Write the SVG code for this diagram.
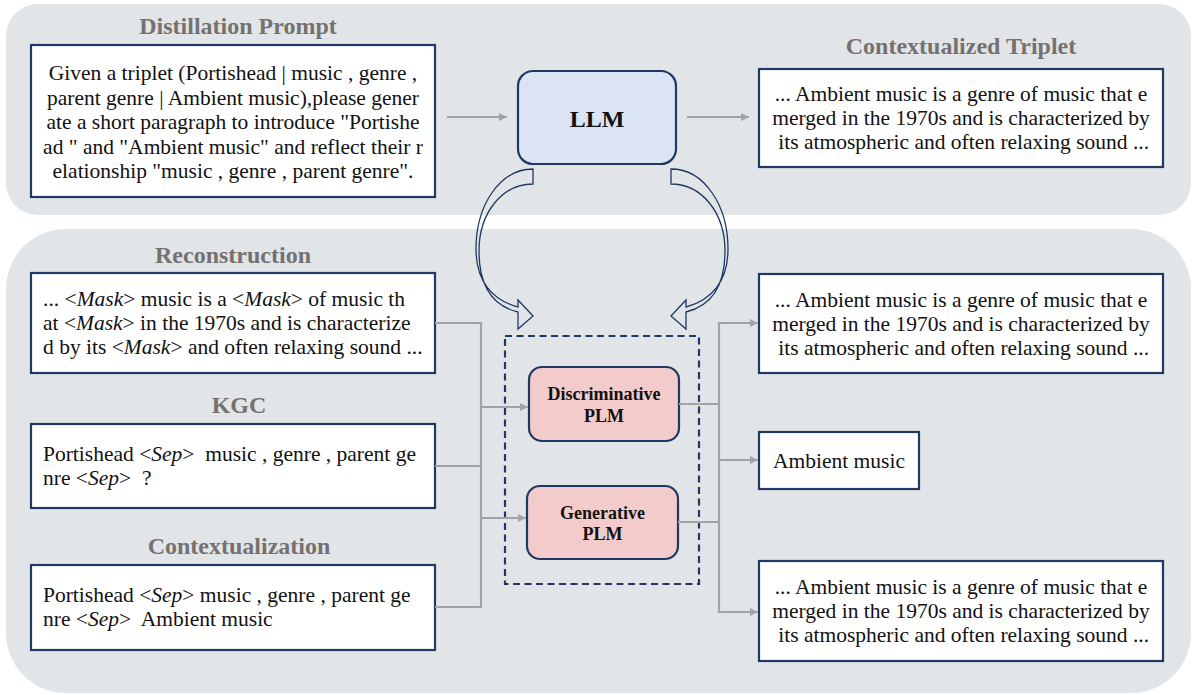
<svg xmlns="http://www.w3.org/2000/svg" width="1196" height="695" viewBox="0 0 1196 695">
<style>
.panel{fill:#e2e5e7;stroke:none}
.box{fill:#ffffff;stroke:#203864;stroke-width:2.2}
.t{font-family:"Liberation Serif","Times New Roman",serif;font-size:21.5px;fill:#111111;white-space:pre}
.c{text-anchor:middle}
.title{font-family:"Liberation Serif","Times New Roman",serif;font-size:24px;font-weight:bold;fill:#767171;text-anchor:middle}
.bold{font-family:"Liberation Serif","Times New Roman",serif;font-weight:bold;fill:#111111;text-anchor:middle}
.conn{fill:none;stroke:#a3a3a3;stroke-width:2.2}
.curve{fill:none;stroke:#203864;stroke-width:1.3;stroke-linejoin:miter}
</style>
<defs>
<marker id="ah" markerUnits="userSpaceOnUse" markerWidth="9" markerHeight="9" refX="8" refY="4.5" orient="auto">
<path d="M0,0.5 L8,4.5 L0,8.5 Z" fill="#a3a3a3"/>
</marker>
</defs>

<rect class="panel" x="6" y="4" width="1185" height="211" rx="32" ry="32"/>
<rect class="panel" x="6" y="229" width="1185" height="464" rx="60" ry="60"/>

<g id="prompt">
<text class="title" x="238" y="34">Distillation Prompt</text>
<rect class="box" x="31" y="45" width="404" height="152"/>
<text class="t c" x="233" y="80">Given a triplet (Portishead | music , genre ,</text>
<text class="t c" x="233" y="104.5">parent genre | Ambient music),please gener</text>
<text class="t c" x="233" y="129">ate a short paragraph to introduce "Portishe</text>
<text class="t c" x="233" y="153.5">ad " and "Ambient music" and reflect their r</text>
<text class="t c" x="233" y="178">elationship "music , genre , parent genre".</text>
</g>

<g id="llm">
<rect x="518" y="71" width="158" height="93" rx="15" ry="15" fill="#dae4f5" stroke="#203864" stroke-width="2.2"/>
<text class="bold" x="597" y="127" font-size="24">LLM</text>
</g>

<g id="ctx-triplet">
<text class="title" x="961" y="54">Contextualized Triplet</text>
<rect class="box" x="759" y="69" width="404" height="98"/>
<text class="t c" x="961" y="101">... Ambient music is a genre of music that e</text>
<text class="t c" x="961" y="125">merged in the 1970s and is characterized by</text>
<text class="t c" x="961" y="149"> its atmospheric and often relaxing sound ...</text>
</g>

<g id="reconstruction">
<text class="title" x="233" y="263">Reconstruction</text>
<rect class="box" x="31" y="273" width="404" height="100"/>
<text class="t" x="43" y="306">... &lt;<tspan font-style="italic">Mask</tspan>&gt; music is a &lt;<tspan font-style="italic">Mask</tspan>&gt; of music th</text>
<text class="t" x="43" y="330">at &lt;<tspan font-style="italic">Mask</tspan>&gt; in the 1970s and is characterize</text>
<text class="t" x="43" y="354">d by its &lt;<tspan font-style="italic">Mask</tspan>&gt; and often relaxing sound ...</text>
</g>

<g id="kgc">
<text class="title" x="239" y="413">KGC</text>
<rect class="box" x="31" y="424" width="404" height="84"/>
<text class="t" x="43" y="461">Portishead &lt;<tspan font-style="italic">Sep</tspan>&gt;  music , genre , parent ge</text>
<text class="t" x="43" y="485">nre &lt;<tspan font-style="italic">Sep</tspan>&gt;  ?</text>
</g>

<g id="contextualization">
<text class="title" x="239" y="554">Contextualization</text>
<rect class="box" x="31" y="565" width="404" height="85"/>
<text class="t" x="43" y="602">Portishead &lt;<tspan font-style="italic">Sep</tspan>&gt; music , genre , parent ge</text>
<text class="t" x="43" y="626">nre &lt;<tspan font-style="italic">Sep</tspan>&gt;  Ambient music</text>
</g>

<g id="plm-group">
<rect x="505" y="336" width="194" height="248" fill="none" stroke="#203864" stroke-width="2.2" stroke-dasharray="7,4.5"/>
</g>

<g id="discriminative">
<rect x="529" y="367" width="150" height="74" rx="13" ry="13" fill="#f3cbcb" stroke="#203864" stroke-width="2.2"/>
<text class="bold" x="604" y="400" font-size="18">Discriminative</text>
<text class="bold" x="604" y="422" font-size="18">PLM</text>
</g>

<g id="generative">
<rect x="527" y="486" width="151" height="73" rx="13" ry="13" fill="#f3cbcb" stroke="#203864" stroke-width="2.2"/>
<text class="bold" x="602.5" y="519" font-size="18">Generative</text>
<text class="bold" x="602.5" y="540" font-size="18">PLM</text>
</g>

<g id="out-text-1">
<rect class="box" x="759" y="274" width="404" height="99"/>
<text class="t c" x="961" y="306.5">... Ambient music is a genre of music that e</text>
<text class="t c" x="961" y="330.5">merged in the 1970s and is characterized by</text>
<text class="t c" x="961" y="354.5"> its atmospheric and often relaxing sound ...</text>
</g>

<g id="out-entity">
<rect class="box" x="759" y="432" width="160" height="57"/>
<text class="t c" x="839" y="467.5">Ambient music</text>
</g>

<g id="out-text-2">
<rect class="box" x="759" y="561" width="404" height="100"/>
<text class="t c" x="961" y="594">... Ambient music is a genre of music that e</text>
<text class="t c" x="961" y="618">merged in the 1970s and is characterized by</text>
<text class="t c" x="961" y="642"> its atmospheric and often relaxing sound ...</text>
</g>

<g id="connectors">
<path class="conn" d="M447,117 H507" marker-end="url(#ah)"/>
<path class="conn" d="M687,117 H749" marker-end="url(#ah)"/>
<path class="conn" d="M435,323 H481 V407 H528" marker-end="url(#ah)"/>
<path class="conn" d="M435,466 H481 V407"/>
<path class="conn" d="M435,466 H481 V518 H526" marker-end="url(#ah)"/>
<path class="conn" d="M435,607 H481 V518"/>
<path class="conn" d="M679,404 H719 V323 H758" marker-end="url(#ah)"/>
<path class="conn" d="M679,404 H719 V460 H758" marker-end="url(#ah)"/>
<path class="conn" d="M678,522 H719 V612 H758" marker-end="url(#ah)"/>
<path class="conn" d="M678,522 H719 V460"/>
<path id="curve-left" class="curve" d="M533,169 C500,169 476,205 476,249 C476,281 492,300 518,307 L518,300 L533,316 L518,329 L518,312 C489,305 479,282 479,251 C479,213 502,184 533,184 Z"/>
<path id="curve-right" class="curve" transform="matrix(-1 0 0 1 1204 0)" d="M533,169 C500,169 476,205 476,249 C476,281 492,300 518,307 L518,300 L533,316 L518,329 L518,312 C489,305 479,282 479,251 C479,213 502,184 533,184 Z"/>
</g>
</svg>
